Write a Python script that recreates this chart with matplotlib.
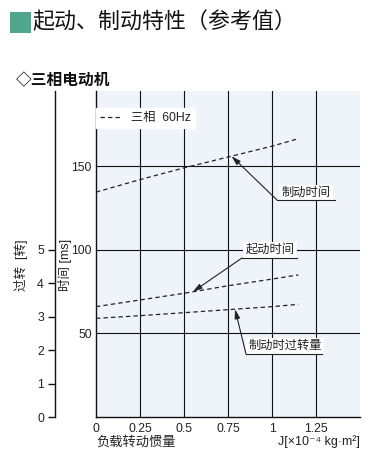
import matplotlib
matplotlib.use("Agg")
import matplotlib.pyplot as plt
import numpy as np
from matplotlib.patches import Rectangle

plt.rcParams['font.family'] = ['Liberation Sans', 'Noto Sans CJK SC', 'DejaVu Sans']

# ---- data ----
inertia = [0, 0.25, 0.5, 0.75, 1.0, 1.15]          # J [x10^-4 kg m^2]
braking_time = [134.5, 142, 149, 155.5, 162, 166.5]  # ms
starting_time = [66, 70, 74, 78.5, 82.5, 85]         # ms
overtravel = [2.95, 3.03, 3.12, 3.21, 3.30, 3.37]    # revolutions
x_ticks = [0, 0.25, 0.5, 0.75, 1, 1.25]
x_ticklabels = ['0', '0.25', '0.5', '0.75', '1', '1.25']
ms_ticks = [50, 100, 150]
rev_ticks = [0, 1, 2, 3, 4, 5]
title = '起动、制动特性（参考值）'
subtitle = '◇三相电动机'
legend_label = '三相  60Hz'
xlabel = '负载转动惯量'
unit_label = 'J[×10⁻⁴ kg·m²]'
ms_label = '时间 [ms]'
rev_label = '过转  [转]'
names = ['制动时间', '起动时间', '制动时过转量']

MS_PER_REV = 20.0
W, H = 384, 472
fig = plt.figure(figsize=(W / 100, H / 100), dpi=100)

def fx(px):
    return px / W

def fy(py):
    return 1 - py / H

L, R, T, B = 96, 360, 91, 417
ax = fig.add_axes([fx(L), fy(B), fx(R) - fx(L), fy(T) - fy(B)])
ax.set_facecolor('#eff3fa')
ax.set_xlim(0, 1.5)
ymax = 195
ax.set_ylim(0, ymax)

for s in ['top', 'right']:
    ax.spines[s].set_visible(False)
for s in ['left', 'bottom']:
    ax.spines[s].set_color('#111111')
    ax.spines[s].set_linewidth(1.0)

ax.set_xticks(x_ticks)
ax.set_xticklabels(x_ticklabels)
ax.set_yticks(ms_ticks)
ax.tick_params(axis='both', length=0, labelsize=8.8, colors='#222222', pad=3)
ax.tick_params(axis='x', pad=4)

for xv in x_ticks[1:]:
    ax.axvline(xv, color='#111111', lw=0.8, zorder=1)
for yv in ms_ticks:
    ax.axhline(yv, color='#111111', lw=0.8, zorder=1)

dash = (0, (3.5, 2.5))
ax.plot(inertia, braking_time, color='#222222', lw=0.9, ls=dash, zorder=3,
        label=legend_label)
ax.plot(inertia, starting_time, color='#222222', lw=0.9, ls=dash, zorder=3)
ax.plot(inertia, np.array(overtravel) * MS_PER_REV, color='#222222', lw=0.9,
        ls=dash, zorder=3)

leg = ax.legend(loc='center left', bbox_to_anchor=(0.0, 0.917), fontsize=8.8,
                frameon=True, fancybox=False, borderpad=0.3, borderaxespad=0,
                handlelength=1.8, handletextpad=0.8, labelcolor='#222222')
leg.get_frame().set_facecolor('white')
leg.get_frame().set_edgecolor('white')
leg.get_frame().set_alpha(1)

def px2d(px, py):
    return (px - L) / (R - L) * 1.5, (B - py) / (B - T) * ymax

curves = [braking_time, starting_time, list(np.array(overtravel) * MS_PER_REV)]
ann = [
    (306, 193, 277, 335, 200, 0.77),
    (270, 250, 242, 297, 258, 0.55),
    (285, 346, 246, 322, 354, 0.79),
]
for name, c, (tx, ty, u0, u1, uy, tipj) in zip(names, curves, ann):
    xt, yt = px2d(tx, ty)
    ax.text(xt, yt, name, ha='center', va='center', fontsize=8.8,
            color='#222222', zorder=4,
            bbox=dict(facecolor='white', edgecolor='none', pad=1.5))
    ux0, uyd = px2d(u0, uy)
    ux1, _ = px2d(u1, uy)
    ax.plot([ux0, ux1], [uyd, uyd], color='#222222', lw=0.8, zorder=5)
    tipy = np.interp(tipj, inertia, c)
    ax.annotate('', xy=(tipj, tipy), xytext=(ux0, uyd), zorder=5,
                arrowprops=dict(arrowstyle='-|>,head_length=0.55,head_width=0.16',
                                color='#222222', lw=0.8, shrinkA=0, shrinkB=0))

# revolutions axis
ax2 = fig.add_axes([fx(55), fy(B), 0.001, fy(T) - fy(B)])
ax2.set_ylim(0, ymax / MS_PER_REV)
ax2.set_xticks([])
ax2.set_yticks(rev_ticks)
ax2.patch.set_visible(False)
for s in ['top', 'right', 'bottom']:
    ax2.spines[s].set_visible(False)
ax2.spines['left'].set_color('#111111')
ax2.spines['left'].set_linewidth(1.0)
ax2.tick_params(axis='y', length=5, width=1.0, color='#111111', labelsize=8.8,
                labelcolor='#222222', pad=3)

# axis labels
fig.text(fx(65), fy(265), ms_label, rotation=90, ha='center', va='center',
         fontsize=9, color='#222222')
fig.text(fx(21), fy(265), rev_label, rotation=90, ha='center', va='center',
         fontsize=9, color='#222222')
fig.text(fx(96), fy(442), xlabel, ha='left', va='center', fontsize=9.5,
         color='#222222')
fig.text(fx(360), fy(442), unit_label, ha='right', va='center', fontsize=9,
         color='#222222', family=['Liberation Sans', 'DejaVu Sans', 'Noto Sans CJK SC'])

# title
fig.patches.append(Rectangle((fx(10), fy(33)), fx(21), fy(12) - fy(33),
                             transform=fig.transFigure, facecolor='#4fa88c',
                             edgecolor='none'))
fig.text(fx(32), fy(22), title, ha='left', va='center', fontsize=15.8,
         color='#111111', family=['Noto Sans CJK SC', 'DejaVu Sans'])
fig.text(fx(16), fy(80), subtitle, ha='left', va='center', fontsize=11.3,
         fontweight='bold', color='#111111', family=['Noto Sans CJK SC', 'DejaVu Sans'])

fig.savefig('out.png', dpi=100)
